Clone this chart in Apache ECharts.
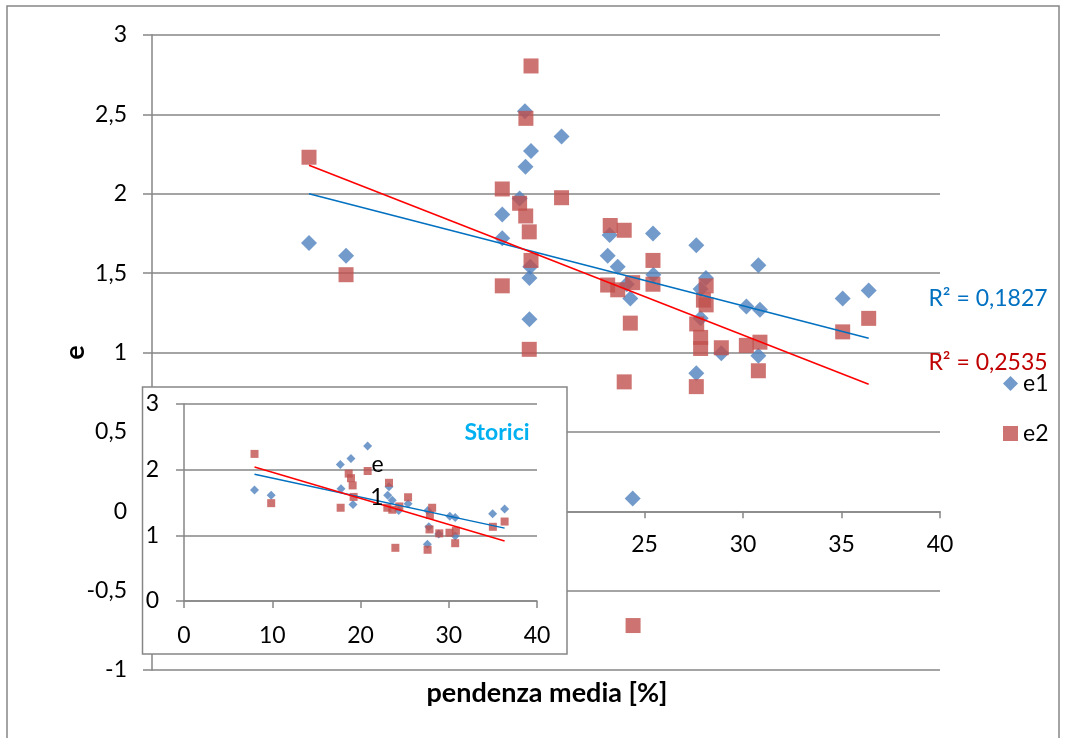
<!DOCTYPE html>
<html>
<head>
<meta charset="utf-8">
<script src="https://cdn.jsdelivr.net/npm/echarts@6/dist/echarts.min.js"></script>
<style>
html,body{margin:0;padding:0;background:#fff;}
#chart{width:1065px;height:738px;}
</style>
</head>
<body>
<div id="chart"></div>
<script>
// ---- main chart data ----
const e1X = [7.97, 9.85, 17.78, 17.78, 18.66, 18.96, 18.93, 19.24, 20.79, 19.16, 19.16, 19.2, 23.23, 23.13, 23.64, 24.1, 24.28, 25.43, 25.45, 27.63, 27.85, 28.12, 27.85, 28.9, 27.63, 30.17, 30.86, 30.78, 30.78, 35.06, 36.38, 24.4];
const e1Y = [1.69, 1.61, 1.87, 1.72, 1.97, 2.17, 2.52, 2.27, 2.36, 1.47, 1.21, 1.54, 1.74, 1.61, 1.54, 1.43, 1.34, 1.75, 1.49, 1.675, 1.40, 1.47, 1.215, 0.995, 0.87, 1.29, 1.27, 1.55, 0.98, 1.34, 1.39, 0.08];
const e2X = [7.97, 9.85, 17.78, 17.78, 18.66, 18.97, 18.98, 19.15, 19.24, 19.15, 19.24, 20.79, 23.26, 23.97, 23.13, 23.64, 24.4, 24.28, 23.97, 25.43, 25.43, 28.13, 27.99, 28.13, 27.65, 27.85, 27.85, 28.9, 27.63, 30.17, 30.86, 30.78, 35.06, 36.38, 24.42];
const e2Y = [2.23, 1.49, 2.03, 1.42, 1.94, 1.86, 2.475, 1.76, 1.58, 1.02, 2.805, 1.975, 1.80, 1.77, 1.425, 1.395, 1.44, 1.185, 0.815, 1.58, 1.43, 1.42, 1.33, 1.30, 1.18, 1.095, 1.025, 1.03, 0.785, 1.045, 1.065, 0.885, 1.13, 1.215, -0.72];
const trendX = [7.97, 36.38];
const trend1Y = [2.0, 1.09];
const trend2Y = [2.18, 0.80];
const r2Labels = ['R² = 0,1827', 'R² = 0,2535'];
const seriesNames = ['e1', 'e2'];

// ---- inset ("Storici") data ----
const s1X = [7.99, 9.88, 17.71, 17.79, 18.92, 20.81, 19.15, 23.23, 23.08, 23.6, 24.33, 25.39, 27.63, 27.74, 27.58, 28.87, 30.12, 30.73, 30.73, 34.97, 36.33];
const s1Y = [1.69, 1.61, 2.08, 1.71, 2.17, 2.36, 1.47, 1.74, 1.61, 1.535, 1.38, 1.48, 1.38, 1.13, 0.864, 1.02, 1.29, 1.27, 0.99, 1.33, 1.40];
const s2X = [7.99, 9.88, 17.75, 18.66, 18.92, 19.11, 19.22, 20.81, 23.23, 23.04, 23.6, 24.4, 23.95, 25.39, 28.12, 27.86, 27.82, 28.93, 27.6, 30.08, 30.81, 30.73, 35.0, 36.33];
const s2Y = [2.24, 1.49, 1.42, 1.94, 1.87, 1.76, 1.585, 1.98, 1.80, 1.42, 1.39, 1.44, 0.81, 1.58, 1.42, 1.31, 1.09, 1.03, 0.78, 1.04, 1.07, 0.88, 1.13, 1.21];
const sTrendX = [7.99, 36.33];
const sTrend1Y = [1.93, 1.11];
const sTrend2Y = [2.04, 0.915];

const xTitle = 'pendenza media [%]';
const yTitle = 'e';
const insetTitle = 'Storici';

const pairs = (xs, ys) => xs.map((x, i) => [x, ys[i]]);
const comma = v => String(v).replace('.', ',');

const FONT = 'Lato';
const GRAY = '#868686';
const C1 = '#4F81BD', C2 = '#C0504D';
const T1 = '#0070C0', T2 = '#FF0000', R2C = '#C00000';

const chart = echarts.init(document.getElementById('chart'), null, {renderer: 'canvas'});

const axisCommonLabel = {color: '#000', fontSize: 23, fontFamily: FONT};

// main grid geometry: y from -1 to 3 over 635px, so y=0 sits 158.75px above the bottom
const mainTop = 35, mainBottom = 68, chartH = 738;
const mainHeight = chartH - mainTop - mainBottom;
const zeroOffset = -mainHeight * (0 - (-1)) / (3 - (-1));

const option = {
  animation: false,
  backgroundColor: '#fff',
  textStyle: {fontFamily: FONT},
  grid: [
    {left: 152, top: mainTop, right: 125, bottom: mainBottom},
    {left: 184, top: 404, right: 528, bottom: 137}
  ],
  xAxis: [
    {
      type: 'value', gridIndex: 0, min: 0, max: 40, interval: 5,
      position: 'bottom', offset: zeroOffset,
      axisLine: {show: true, onZero: false, lineStyle: {color: GRAY, width: 1.5}},
      axisTick: {show: true, length: 7, lineStyle: {color: GRAY, width: 1.5}},
      axisLabel: Object.assign({margin: 22}, axisCommonLabel),
      splitLine: {show: false}
    },
    {
      type: 'value', gridIndex: 1, min: 0, max: 40, interval: 10, z: 20,
      axisLine: {show: true, onZero: false, lineStyle: {color: GRAY, width: 1.5}},
      axisTick: {show: true, length: 7, lineStyle: {color: GRAY, width: 1.5}},
      axisLabel: Object.assign({margin: 23}, axisCommonLabel),
      splitLine: {show: false}
    }
  ],
  yAxis: [
    {
      type: 'value', gridIndex: 0, min: -1, max: 3, interval: 0.5,
      name: yTitle, nameLocation: 'middle', nameRotate: 90, nameGap: 63, nameMoveOverlap: false,
      nameTextStyle: {fontSize: 27, fontWeight: 'bold', color: '#000', fontFamily: FONT},
      axisLine: {show: true, lineStyle: {color: GRAY, width: 1.5}},
      axisTick: {show: true, length: 9, lineStyle: {color: GRAY, width: 1.5}},
      axisLabel: Object.assign({margin: 25, formatter: comma}, axisCommonLabel),
      splitLine: {show: true, lineStyle: {color: GRAY, width: 1.5}}
    },
    {
      type: 'value', gridIndex: 1, min: 0, max: 3, interval: 1, z: 20,
      axisLine: {show: true, lineStyle: {color: GRAY, width: 1.5}},
      axisTick: {show: true, length: 8, lineStyle: {color: GRAY, width: 1.5}},
      axisLabel: Object.assign({margin: 25, formatter: comma}, axisCommonLabel),
      splitLine: {show: true, lineStyle: {color: GRAY, width: 1.5}}
    }
  ],
  legend: {
    orient: 'vertical', left: 998, top: 367, itemGap: 27,
    itemWidth: 15, itemHeight: 15,
    textStyle: {fontSize: 23, color: '#000', fontFamily: FONT},
    data: [{name: seriesNames[0], icon: 'diamond'}, {name: seriesNames[1], icon: 'rect'}]
  },
  series: [
    {name: seriesNames[0], type: 'scatter', xAxisIndex: 0, yAxisIndex: 0, symbol: 'diamond', symbolSize: 16,
     itemStyle: {color: C1}, data: pairs(e1X, e1Y), z: 2},
    {name: seriesNames[1], type: 'scatter', xAxisIndex: 0, yAxisIndex: 0, symbol: 'rect', symbolSize: 15,
     itemStyle: {color: C2}, data: pairs(e2X, e2Y), z: 2},
    {name: 'trend e1', type: 'line', xAxisIndex: 0, yAxisIndex: 0, showSymbol: false, silent: true,
     lineStyle: {color: T1, width: 1.6}, data: pairs(trendX, trend1Y), z: 3},
    {name: 'trend e2', type: 'line', xAxisIndex: 0, yAxisIndex: 0, showSymbol: false, silent: true,
     lineStyle: {color: T2, width: 1.6}, data: pairs(trendX, trend2Y), z: 3},

    {name: 'Storici e1', type: 'scatter', xAxisIndex: 1, yAxisIndex: 1, symbol: 'diamond', symbolSize: 9,
     itemStyle: {color: C1}, data: pairs(s1X, s1Y), z: 30},
    {name: 'Storici e2', type: 'scatter', xAxisIndex: 1, yAxisIndex: 1, symbol: 'rect', symbolSize: 8,
     itemStyle: {color: C2}, data: pairs(s2X, s2Y), z: 30},
    {name: 'Storici trend e1', type: 'line', xAxisIndex: 1, yAxisIndex: 1, showSymbol: false, silent: true,
     lineStyle: {color: T1, width: 1.5}, data: pairs(sTrendX, sTrend1Y), z: 31},
    {name: 'Storici trend e2', type: 'line', xAxisIndex: 1, yAxisIndex: 1, showSymbol: false, silent: true,
     lineStyle: {color: T2, width: 1.5}, data: pairs(sTrendX, sTrend2Y), z: 31}
  ],
  graphic: [
    {type: 'rect', z: -1, silent: true, shape: {x: 7, y: 6, width: 1052, height: 740},
     style: {fill: 'none', stroke: GRAY, lineWidth: 1.5}},
    {type: 'rect', z: 10, silent: true, shape: {x: 142.5, y: 387, width: 424.5, height: 267},
     style: {fill: '#fff', stroke: GRAY, lineWidth: 1.5}},
    {type: 'text', z: 40, silent: true, x: 547, y: 693,
     style: {text: xTitle, fill: '#000', font: 'bold 27px ' + FONT, align: 'center', verticalAlign: 'middle'}},
    {type: 'text', z: 5, silent: true, x: 988, y: 299,
     style: {text: r2Labels[0], fill: T1, font: '23px ' + FONT, align: 'center', verticalAlign: 'middle'}},
    {type: 'text', z: 5, silent: true, x: 988, y: 363,
     style: {text: r2Labels[1], fill: R2C, font: '23px ' + FONT, align: 'center', verticalAlign: 'middle'}},
    {type: 'text', z: 40, silent: true, x: 497, y: 433,
     style: {text: insetTitle, fill: '#00B0F0', font: 'bold 23px ' + FONT, align: 'center', verticalAlign: 'middle'}},
    {type: 'text', z: 40, silent: true, x: 377.5, y: 465,
     style: {text: yTitle, fill: '#000', font: '23px ' + FONT, align: 'center', verticalAlign: 'middle'}},
    {type: 'text', z: 40, silent: true, x: 377, y: 497.5,
     style: {text: '1', fill: '#000', font: '23px ' + FONT, align: 'center', verticalAlign: 'middle'}}
  ]
};
chart.setOption(option);
</script>
</body>
</html>
